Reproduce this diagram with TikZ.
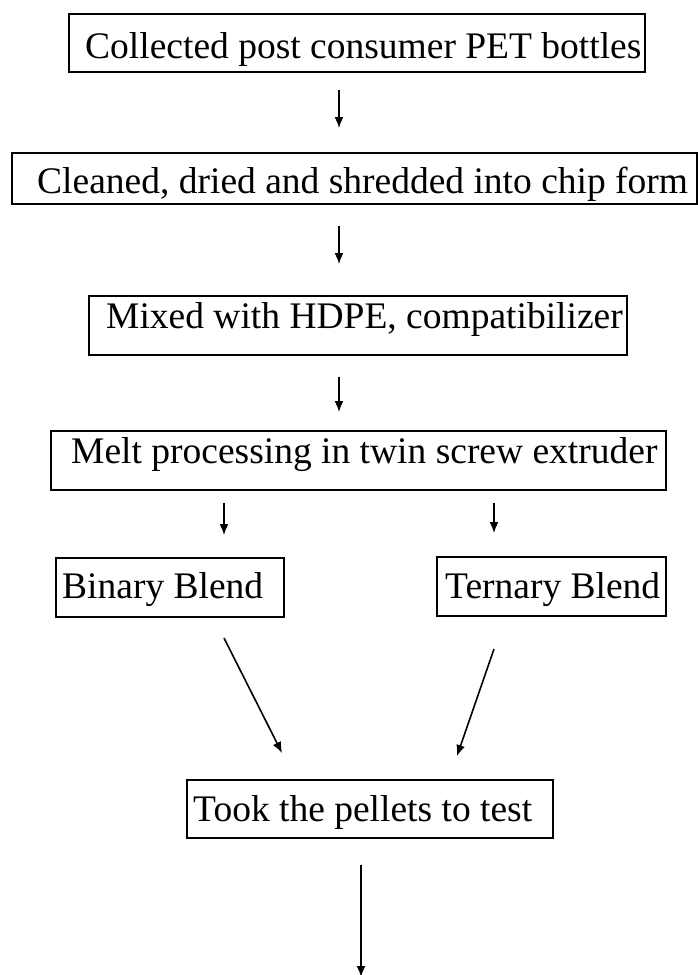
\documentclass[tikz,border=0pt]{standalone}
\usepackage{fontspec}
\setmainfont{Liberation Serif}
\usetikzlibrary{arrows.meta}
\begin{document}
\begin{tikzpicture}[x=1pt,y=-1pt,
  stepbox/.style={draw=black, line width=1.7pt, rectangle, inner sep=0pt, anchor=north west},
  steptext/.style={anchor=base west, inner sep=0pt, font=\fontsize{37.5}{40}\selectfont},
  flow/.style={line width=1.6pt, -{Latex[length=11pt,width=9pt]}}]
\useasboundingbox (0,0) rectangle (698,975);

% process boxes
\node[stepbox, minimum width=576pt, minimum height=58pt] (b1) at (68,13) {};
\node[stepbox, minimum width=685pt, minimum height=51pt] (b2) at (11,152) {};
\node[stepbox, minimum width=538pt, minimum height=59pt] (b3) at (88,295) {};
\node[stepbox, minimum width=615pt, minimum height=59pt] (b4) at (50,430) {};
\node[stepbox, minimum width=228pt, minimum height=59pt] (b5) at (55,557) {};
\node[stepbox, minimum width=229pt, minimum height=59pt] (b6) at (436,556) {};
\node[stepbox, minimum width=366pt, minimum height=58pt] (b7) at (186,779) {};

% box labels
\node[steptext] (t1) at (85,58) {Collected post consumer PET bottles};
\node[steptext] (t2) at (37,193) {Cleaned, dried and shredded into chip form};
\node[steptext] (t3) at (106,328) {Mixed with HDPE, compatibilizer};
\node[steptext] (t4) at (71,463) {Melt processing in twin screw extruder};
\node[steptext] (t5) at (62,598) {Binary Blend};
\node[steptext] (t6) at (445,598) {Ternary Blend};
\node[steptext] (t7) at (193,821) {Took the pellets to test};

% arrow columns
\coordinate (mid) at (339,0);
\coordinate (left) at (224,0);
\coordinate (right) at (494,0);
\coordinate (last) at (361,0);

% vertical connectors
\draw[flow, shorten <=17pt, shorten >=24pt] (b1.south -| mid) -- (b2.north -| mid);
\draw[flow, shorten <=21pt, shorten >=31pt] (b2.south -| mid) -- (b3.north -| mid);
\draw[flow, shorten <=21pt, shorten >=18pt] (b3.south -| mid) -- (b4.north -| mid);
\draw[flow, shorten <=12pt, shorten >=22pt] (b4.south -| left) -- (b5.north -| left);
\draw[flow, shorten <=12pt, shorten >=23pt] (b4.south -| right) -- (b6.north -| right);

% blends merge into testing
\coordinate (d1a) at (224,638);
\coordinate (d1b) at (282,753);
\coordinate (d2a) at (494,649);
\coordinate (d2b) at (457,756);
\draw[flow] (d1a) -- (d1b);
\draw[flow] (d2a) -- (d2b);

% final outgoing arrow
\coordinate (out) at (361,977);
\draw[flow, shorten <=26pt] (b7.south -| last) -- (out);
\end{tikzpicture}
\end{document}
